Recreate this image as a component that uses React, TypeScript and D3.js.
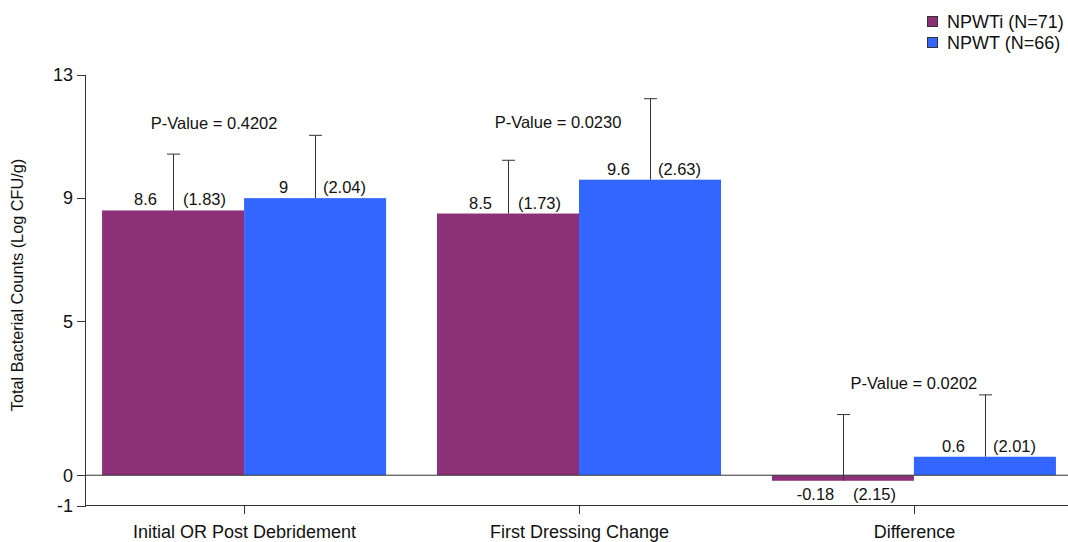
import React from "react";
import * as d3 from "d3";

const categories = ["Initial OR Post Debridement", "First Dressing Change", "Difference"];
const seriesNames = ["NPWTi (N=71)", "NPWT (N=66)"];
const seriesKeys = ["NPWTi", "NPWT"];
const npwtiMeans = [8.6, 8.5, -0.18];
const npwtiSDs = [1.83, 1.73, 2.15];
const npwtMeans = [9, 9.6, 0.6];
const npwtSDs = [2.04, 2.63, 2.01];
const pValues = ["0.4202", "0.0230", "0.0202"];
const yTicks = [-1, 0, 5, 9, 13];

const W = 1068;
const H = 542;
const colors = ["#8C3077", "#3366FF"];
const FONT = "'Liberation Sans', Arial, sans-serif";
const FS = 16.5;
const FS_BIG = 18;

// layout of p-value annotations (offset from group center, y in data units)
const pLayout = [
  { dx: -30, yv: 11.25 },
  { dx: -21, yv: 11.28 },
  { dx: 0, yv: 2.8 },
];
// label offsets per series (value label, sd label)
const labelOffsets = [
  { v: -28, s: 31 },
  { v: -32, s: 29 },
];

export default function App() {
  const x0 = d3
    .scaleBand<string>()
    .domain(categories)
    .range([86, 1072])
    .paddingInner(0.152)
    .paddingOuter(0.048);
  const x1 = d3.scaleBand<string>().domain(seriesKeys).range([0, x0.bandwidth()]).padding(0);
  const y = d3.scaleLinear().domain([-1, 13]).range([506, 75]);

  const means = [npwtiMeans, npwtMeans];
  const sds = [npwtiSDs, npwtSDs];

  const axisColor = "#333";

  return (
    <svg width={W} height={H} style={{ position: "absolute", left: 0, top: 0 }} fontFamily={FONT}>
      <rect x={0} y={0} width={W} height={H} fill="#fff" />
      {/* bars */}
      {categories.map((c, ci) =>
        seriesKeys.map((k, si) => {
          const v = means[si][ci];
          const bx = (x0(c) as number) + (x1(k) as number);
          const bw = x1.bandwidth();
          const y0 = y(0);
          const yv = y(v);
          return (
            <rect
              key={c + k}
              x={bx}
              y={Math.min(y0, yv)}
              width={bw}
              height={Math.abs(y0 - yv)}
              fill={colors[si]}
            />
          );
        })
      )}
      {/* zero line */}
      <line x1={86} x2={W} y1={y(0)} y2={y(0)} stroke={axisColor} strokeWidth={1} />
      {/* error bars and labels */}
      {categories.map((c, ci) =>
        seriesKeys.map((k, si) => {
          const v = means[si][ci];
          const sd = sds[si][ci];
          const cx = Math.round((x0(c) as number) + (x1(k) as number) + x1.bandwidth() / 2) + 0.5;
          const yTop = y(v + sd);
          const yv = y(v);
          const labelY = v >= 0 ? yv - 5 : yv + 19;
          return (
            <g key={"e" + c + k}>
              <line x1={cx} x2={cx} y1={yv} y2={yTop} stroke={axisColor} strokeWidth={1} />
              <line x1={cx - 6.5} x2={cx + 6.5} y1={yTop} y2={yTop} stroke={axisColor} strokeWidth={1} />
              <text x={cx + labelOffsets[si].v} y={labelY} textAnchor="middle" fontSize={FS} fill="#111">
                {String(v)}
              </text>
              <text x={cx + labelOffsets[si].s} y={labelY} textAnchor="middle" fontSize={FS} fill="#111">
                {"(" + sd.toFixed(2) + ")"}
              </text>
            </g>
          );
        })
      )}
      {/* p-values */}
      {categories.map((c, ci) => (
        <text
          key={"p" + c}
          x={(x0(c) as number) + x0.bandwidth() / 2 + pLayout[ci].dx}
          y={y(pLayout[ci].yv)}
          textAnchor="middle"
          fontSize={FS}
          fill="#111"
        >
          {"P-Value = " + pValues[ci]}
        </text>
      ))}
      {/* y axis */}
      <line x1={85.5} x2={85.5} y1={75} y2={506} stroke={axisColor} strokeWidth={1} />
      {yTicks.map((t) => (
        <g key={"yt" + t}>
          <line x1={77} x2={86} y1={Math.round(y(t)) + 0.5} y2={Math.round(y(t)) + 0.5} stroke={axisColor} />
          <text x={73} y={y(t)} dy="0.35em" textAnchor="end" fontSize={FS_BIG} fill="#111">
            {String(t)}
          </text>
        </g>
      ))}
      <text
        transform={`translate(23, 285) rotate(-90)`}
        textAnchor="middle"
        fontSize={16.3}
        fill="#111"
      >
        Total Bacterial Counts (Log CFU/g)
      </text>
      {/* x axis */}
      <line x1={85} x2={W} y1={505.5} y2={505.5} stroke={axisColor} strokeWidth={1} />
      {categories.map((c) => {
        const cx = Math.round((x0(c) as number) + x0.bandwidth() / 2) + 0.5;
        return (
          <g key={"xt" + c}>
            <line x1={cx} x2={cx} y1={506} y2={514} stroke={axisColor} />
            <text x={cx} y={538} textAnchor="middle" fontSize={FS_BIG} fill="#111">
              {c}
            </text>
          </g>
        );
      })}
      {/* legend */}
      {seriesNames.map((n, i) => (
        <g key={"lg" + n}>
          <rect x={927.5} y={16.5 + i * 21} width={10} height={10} fill={colors[i]} stroke="#333" strokeWidth={1} />
          <text x={947} y={27.5 + i * 21} fontSize={FS_BIG} fill="#111">
            {n}
          </text>
        </g>
      ))}
    </svg>
  );
}
